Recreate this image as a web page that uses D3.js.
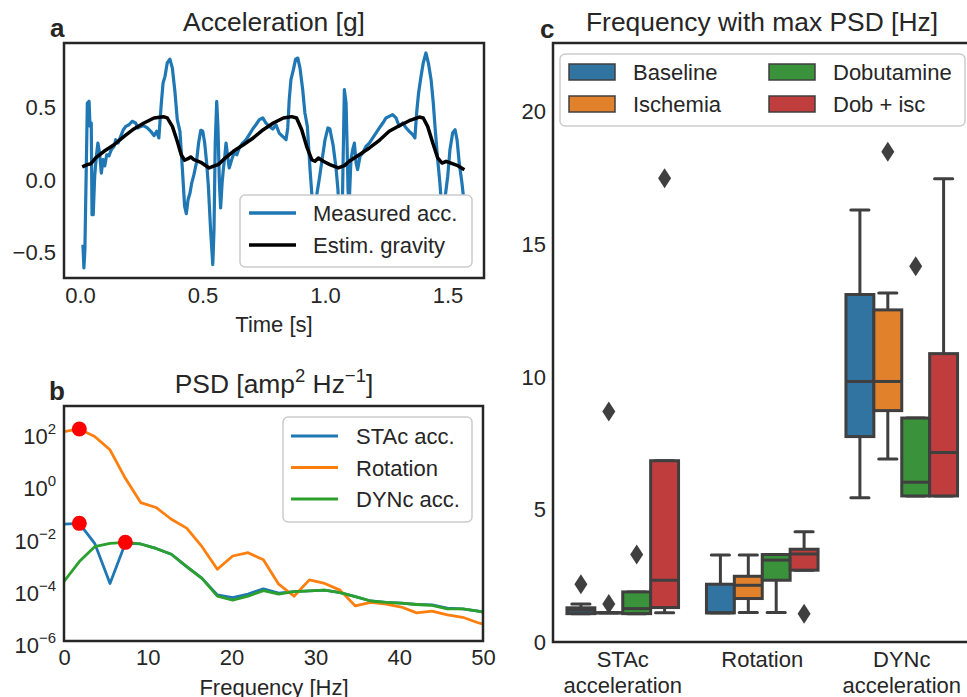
<html>
<head>
<meta charset="UTF-8">
<title>Acceleration, PSD and peak frequency</title>
<script src="https://d3js.org/d3.v7.min.js"></script>
<style>
html,body{margin:0;padding:0;background:#fff;}
svg text{font-family:"Liberation Sans",Arial,sans-serif;fill:#262626;}
</style>
</head>
<body>
<div id="container"></div>
<script>
// ---------- panel a : one recording, [time s, acc g] ----------
const measuredAcc = [[0.012,-0.446],[0.016,-0.607],[0.020,-0.481],[0.030,0.531],[0.037,0.543],[0.041,0.372],[0.046,0.393],[0.049,-0.239],[0.054,-0.239],[0.060,0.028],[0.067,0.166],[0.073,0.255],[0.080,0.186],[0.087,0.048],[0.094,0.140],[0.101,0.097],[0.109,0.174],[0.118,0.166],[0.128,0.209],[0.139,0.232],[0.146,0.278],[0.155,0.255],[0.166,0.301],[0.177,0.347],[0.187,0.370],[0.200,0.381],[0.213,0.405],[0.227,0.393],[0.237,0.359],[0.248,0.370],[0.261,0.374],[0.275,0.359],[0.289,0.336],[0.302,0.306],[0.313,0.336],[0.322,0.290],[0.327,0.416],[0.332,0.531],[0.339,0.669],[0.347,0.715],[0.356,0.807],[0.367,0.834],[0.377,0.772],[0.388,0.600],[0.397,0.416],[0.408,0.336],[0.418,0.071],[0.427,-0.181],[0.434,-0.232],[0.441,-0.136],[0.449,-0.090],[0.456,-0.021],[0.465,0.037],[0.475,0.117],[0.484,0.255],[0.493,0.343],[0.501,0.336],[0.509,0.255],[0.517,0.117],[0.524,-0.043],[0.533,-0.343],[0.542,-0.584],[0.547,-0.343],[0.552,0.255],[0.558,0.543],[0.563,0.370],[0.569,-0.021],[0.574,-0.193],[0.580,-0.021],[0.585,0.071],[0.591,0.163],[0.596,0.255],[0.601,0.186],[0.609,0.083],[0.619,0.140],[0.629,0.186],[0.640,0.174],[0.650,0.221],[0.664,0.255],[0.678,0.278],[0.691,0.313],[0.705,0.352],[0.718,0.381],[0.732,0.416],[0.746,0.428],[0.759,0.393],[0.773,0.370],[0.787,0.352],[0.800,0.381],[0.813,0.324],[0.827,0.301],[0.841,0.278],[0.848,0.359],[0.854,0.554],[0.861,0.692],[0.871,0.761],[0.880,0.834],[0.889,0.841],[0.898,0.772],[0.909,0.623],[0.918,0.462],[0.928,0.370],[0.939,0.071],[0.946,-0.090],[0.955,-0.234],[0.963,-0.138],[0.976,0.000],[0.988,0.138],[1.000,0.276],[1.012,0.359],[1.020,0.352],[1.033,0.241],[1.045,0.083],[1.053,-0.069],[1.064,-0.586],[1.069,-0.345],[1.079,0.623],[1.086,0.531],[1.090,0.255],[1.094,-0.067],[1.098,-0.193],[1.106,0.140],[1.113,0.209],[1.120,0.255],[1.127,0.117],[1.133,0.071],[1.143,0.163],[1.154,0.186],[1.167,0.232],[1.181,0.255],[1.195,0.290],[1.208,0.324],[1.222,0.359],[1.236,0.393],[1.249,0.428],[1.262,0.439],[1.276,0.451],[1.290,0.428],[1.303,0.370],[1.317,0.393],[1.331,0.359],[1.344,0.336],[1.358,0.313],[1.367,0.290],[1.374,0.462],[1.382,0.600],[1.392,0.715],[1.401,0.807],[1.412,0.876],[1.422,0.807],[1.433,0.692],[1.442,0.531],[1.450,0.347],[1.460,0.140],[1.469,-0.021],[1.478,-0.221],[1.486,-0.172],[1.494,-0.069],[1.501,0.026],[1.510,0.209],[1.521,0.324],[1.531,0.347],[1.539,0.278],[1.548,0.117],[1.559,-0.021],[1.571,-0.207]];
const gravityEst = [[0.009,0.090],[0.030,0.106],[0.044,0.112],[0.064,0.152],[0.098,0.198],[0.139,0.243],[0.180,0.301],[0.220,0.352],[0.261,0.393],[0.302,0.428],[0.340,0.437],[0.356,0.428],[0.377,0.370],[0.397,0.267],[0.413,0.174],[0.427,0.136],[0.441,0.147],[0.452,0.159],[0.465,0.140],[0.493,0.122],[0.527,0.083],[0.551,0.099],[0.564,0.106],[0.585,0.140],[0.626,0.198],[0.667,0.243],[0.707,0.290],[0.748,0.347],[0.789,0.393],[0.830,0.428],[0.864,0.437],[0.884,0.428],[0.905,0.347],[0.925,0.232],[0.946,0.140],[0.959,0.129],[0.973,0.152],[0.993,0.129],[1.020,0.106],[1.054,0.083],[1.079,0.099],[1.099,0.129],[1.140,0.174],[1.181,0.221],[1.222,0.274],[1.262,0.336],[1.303,0.374],[1.344,0.409],[1.385,0.434],[1.401,0.428],[1.419,0.370],[1.440,0.255],[1.460,0.152],[1.478,0.117],[1.494,0.129],[1.514,0.117],[1.542,0.099],[1.569,0.071]];
const timeTicks = [0, 0.5, 1.0, 1.5];
const accTicks = [-0.5, 0, 0.5];

// ---------- panel b : power spectral density ----------
const psdFreq = [0,1.83,3.66,5.49,7.32,9.15,10.98,12.81,14.64,16.47,18.30,20.13,21.96,23.79,25.62,27.45,29.28,31.11,32.94,34.77,36.60,38.43,40.26,42.09,43.92,45.75,47.58,49.41,51.24];
const psdSTAc = [3.0e-2,3.2e-2,5.5e-3,1.6e-4,5.5e-3,5.2e-3,3.5e-3,2.1e-3,7.1e-4,2.5e-4,5.8e-5,4.6e-5,6.3e-5,1.0e-4,6.8e-5,7.8e-5,8.3e-5,8.9e-5,7.1e-5,5.0e-5,3.4e-5,3.0e-5,2.8e-5,2.5e-5,2.4e-5,1.8e-5,1.7e-5,1.4e-5,1.1e-5];
const psdRotation = [105,132,68,21,1.7,0.20,0.13,0.046,0.021,4.1e-3,5.6e-4,1.8e-3,2.4e-3,1.3e-3,1.5e-4,5.2e-5,2.2e-4,1.6e-4,8.9e-5,2.2e-5,3.0e-5,2.6e-5,2.0e-5,1.2e-5,1.4e-5,1.0e-5,8.1e-6,5.0e-6,3.5e-6];
const psdDYNc = [1.9e-4,1.1e-3,4.1e-3,5.5e-3,6.0e-3,5.2e-3,3.5e-3,2.1e-3,7.1e-4,2.5e-4,5.2e-5,3.7e-5,5.2e-5,8.5e-5,6.3e-5,7.8e-5,8.3e-5,8.9e-5,7.1e-5,5.0e-5,3.4e-5,3.0e-5,2.8e-5,2.5e-5,2.3e-5,1.7e-5,1.7e-5,1.4e-5,1.1e-5];
const psdNames = ["STAc acc.", "Rotation", "DYNc acc."];
const freqTicks = [0, 10, 20, 30, 40, 50];
const psdTicks = [1e-6, 1e-4, 1e-2, 1, 1e2];

// ---------- panel c : frequency with max PSD ----------
const categories = ["STAc\nacceleration", "Rotation", "DYNc\nacceleration"];
const conditions = ["Baseline", "Ischemia", "Dobutamine", "Dob + isc"];
// per category: [lower whisker, q1, median, q3, upper whisker]
const baselineBox   = [[1.07,1.07,1.20,1.29,1.43], [1.10,1.10,1.10,2.18,3.28], [5.44,7.75,9.83,13.11,16.30]];
const ischemiaBox   = [[1.10,1.10,1.10,1.10,1.10], [1.11,1.64,2.14,2.48,3.28], [6.90,8.73,9.83,12.53,13.17]];
const dobutamineBox = [[1.07,1.07,1.26,1.89,1.89], [1.11,2.33,3.09,3.30,3.30], [5.51,5.51,6.03,8.45,8.45]];
const dobIscBox     = [[1.10,1.30,2.33,6.84,6.84], [2.71,2.71,3.32,3.50,4.16], [5.51,5.51,7.15,10.88,17.48]];
const baselineOut   = [[2.18], [], []];
const ischemiaOut   = [[1.43, 8.7], [], [18.5]];
const dobutamineOut = [[3.30], [], [14.18]];
const dobIscOut     = [[17.5], [1.07], []];
const peakTicks = [0, 5, 10, 15, 20];

const boxColors = ['#3274a1', '#e1812c', '#3a923a', '#c03d3e'];
const psdColors = ['#1f77b4', '#ff7f0e', '#2ca02c'];
const ink = '#262626', boxEdge = '#3f3f3f';

const svg = d3.select('#container').append('svg')
    .attr('width', 967).attr('height', 697)
    .style('background', '#fff');

function styleTicks(g, size) {
    g.select('.domain').remove();
    g.selectAll('text').style('font-size', size + 'px');
}

// ================= panel a =================
const xA = d3.scaleLinear().domain([-0.0653, 1.649]).range([64, 484]);
const yA = d3.scaleLinear().domain([-0.676, 0.945]).range([278, 43]);
const gA = svg.append('g');
gA.append('clipPath').attr('id', 'clipA').append('rect')
    .attr('x', 64).attr('y', 43).attr('width', 420).attr('height', 235);

const lineA = d3.line().x(d => xA(d[0])).y(d => yA(d[1]));
gA.append('path').datum(measuredAcc).attr('d', lineA).attr('clip-path', 'url(#clipA)')
    .attr('fill', 'none').attr('stroke', '#1f77b4').attr('stroke-width', 3.2).attr('stroke-linejoin', 'round');
gA.append('path').datum(gravityEst).attr('d', lineA).attr('clip-path', 'url(#clipA)')
    .attr('fill', 'none').attr('stroke', '#000').attr('stroke-width', 3.5).attr('stroke-linejoin', 'round');

gA.append('g').attr('transform', 'translate(0,278)')
    .call(d3.axisBottom(xA).tickValues(timeTicks).tickFormat(d3.format('.1f')).tickSize(0).tickPadding(9))
    .call(g => styleTicks(g, 22));
gA.append('g').attr('transform', 'translate(64,0)')
    .call(d3.axisLeft(yA).tickValues(accTicks).tickFormat(d3.format('.1f')).tickSize(0).tickPadding(8))
    .call(g => styleTicks(g, 22));
gA.append('rect').attr('x', 64).attr('y', 43).attr('width', 420).attr('height', 235)
    .attr('fill', 'none').attr('stroke', ink).attr('stroke-width', 2.5);

gA.append('text').attr('x', 274).attr('y', 31).attr('text-anchor', 'middle')
    .style('font-size', '26.4px').text('Acceleration [g]');
gA.append('text').attr('x', 274).attr('y', 332).attr('text-anchor', 'middle')
    .style('font-size', '22px').text('Time [s]');
gA.append('text').attr('x', 50).attr('y', 37).style('font-size', '26px').style('font-weight', 'bold').text('a');

// legend a (opaque, the signal is hidden beneath it)
const legA = gA.append('g');
legA.append('rect').attr('x', 240).attr('y', 195).attr('width', 232).attr('height', 72).attr('rx', 5)
    .attr('fill', '#fff').attr('stroke', '#cccccc').attr('stroke-width', 1.5);
[['Measured acc.', '#1f77b4'], ['Estim. gravity', '#000']].forEach((d, i) => {
    const y = 213 + i * 32;
    legA.append('line').attr('x1', 249).attr('x2', 296).attr('y1', y).attr('y2', y)
        .attr('stroke', d[1]).attr('stroke-width', 3.5);
    legA.append('text').attr('x', 313).attr('y', y + 8).style('font-size', '22px').text(d[0]);
});

// ================= panel b =================
const xB = d3.scaleLinear().domain([0, 50]).range([64, 483]);
const yB = d3.scaleLog().domain([1e-6, 1e3]).range([641, 406]);
const gB = svg.append('g');
gB.append('clipPath').attr('id', 'clipB').append('rect')
    .attr('x', 64).attr('y', 406).attr('width', 419).attr('height', 235);

const psdSeries = [psdSTAc, psdRotation, psdDYNc];
const lineB = d3.line().x((d, i) => xB(psdFreq[i])).y(d => yB(d));
psdSeries.forEach((s, k) => {
    gB.append('path').datum(s).attr('d', lineB).attr('clip-path', 'url(#clipB)')
        .attr('fill', 'none').attr('stroke', psdColors[k]).attr('stroke-width', 2.8).attr('stroke-linejoin', 'round');
});
// red dot on each spectrum maximum
psdSeries.forEach(s => {
    const i = d3.maxIndex(s);
    gB.append('circle').attr('cx', xB(psdFreq[i])).attr('cy', yB(s[i])).attr('r', 7.5).attr('fill', '#ff0000');
});

gB.append('g').attr('transform', 'translate(0,641)')
    .call(d3.axisBottom(xB).tickValues(freqTicks).tickFormat(d3.format('d')).tickSize(0).tickPadding(8))
    .call(g => styleTicks(g, 22));
psdTicks.forEach(v => {
    const e = Math.round(Math.log10(v));
    const t = gB.append('text').attr('x', 56).attr('y', yB(v) + 12).attr('text-anchor', 'end').style('font-size', '22px');
    t.append('tspan').text('10');
    t.append('tspan').attr('dy', -10).style('font-size', '15px').text(String(e).replace('-', '\u2212'));
});
gB.append('rect').attr('x', 64).attr('y', 406).attr('width', 419).attr('height', 235)
    .attr('fill', 'none').attr('stroke', ink).attr('stroke-width', 2.5);

const tB = gB.append('text').attr('x', 274).attr('y', 393).attr('text-anchor', 'middle').style('font-size', '26.4px');
tB.append('tspan').text('PSD [amp');
tB.append('tspan').attr('dy', -11).style('font-size', '18.5px').text('2');
tB.append('tspan').attr('dy', 11).text(' Hz');
tB.append('tspan').attr('dy', -11).style('font-size', '18.5px').text('\u22121');
tB.append('tspan').attr('dy', 11).text(']');
gB.append('text').attr('x', 274).attr('y', 695).attr('text-anchor', 'middle')
    .style('font-size', '22px').text('Frequency [Hz]');
gB.append('text').attr('x', 49).attr('y', 400).style('font-size', '26px').style('font-weight', 'bold').text('b');

const legB = gB.append('g');
legB.append('rect').attr('x', 283).attr('y', 417).attr('width', 189).attr('height', 105).attr('rx', 5)
    .attr('fill', '#fff').attr('fill-opacity', 0.8).attr('stroke', '#cccccc').attr('stroke-width', 1.5);
psdNames.forEach((n, i) => {
    const y = 436 + i * 31.5;
    legB.append('line').attr('x1', 291).attr('x2', 338).attr('y1', y).attr('y2', y)
        .attr('stroke', psdColors[i]).attr('stroke-width', 3);
    legB.append('text').attr('x', 356).attr('y', y + 8).style('font-size', '22px').text(n);
});

// ================= panel c =================
const xC = d3.scaleBand().domain(d3.range(categories.length)).range([553, 971.5]);
const hueC = d3.scaleBand().domain(d3.range(conditions.length)).range([0, xC.bandwidth() * 0.8]);
const yC = d3.scaleLinear().domain([0, 22.6]).range([642, 43]);
const gC = svg.append('g');

const boxSets = [baselineBox, ischemiaBox, dobutamineBox, dobIscBox];
const outSets = [baselineOut, ischemiaOut, dobutamineOut, dobIscOut];
const bw = hueC.bandwidth();
const capW = bw * 0.65;
const diamond = 'M0,-10L6.5,0L0,10L-6.5,0Z';

categories.forEach((c, ci) => {
    boxSets.forEach((set, hi) => {
        const [lo, q1, med, q3, up] = set[ci];
        const x0 = xC(ci) + xC.bandwidth() * 0.1 + hueC(hi);
        const cx = x0 + bw / 2;
        const g = gC.append('g');
        // whiskers and caps
        g.append('line').attr('x1', cx).attr('x2', cx).attr('y1', yC(lo)).attr('y2', yC(q1))
            .attr('stroke', boxEdge).attr('stroke-width', 3);
        g.append('line').attr('x1', cx).attr('x2', cx).attr('y1', yC(q3)).attr('y2', yC(up))
            .attr('stroke', boxEdge).attr('stroke-width', 3);
        [lo, up].forEach(v => g.append('line').attr('x1', cx - capW / 2).attr('x2', cx + capW / 2)
            .attr('y1', yC(v)).attr('y2', yC(v)).attr('stroke', boxEdge).attr('stroke-width', 3)
            .attr('stroke-linecap', 'round'));
        // box
        g.append('rect').attr('x', x0).attr('y', yC(q3)).attr('width', bw)
            .attr('height', Math.max(0.01, yC(q1) - yC(q3)))
            .attr('fill', boxColors[hi]).attr('stroke', boxEdge).attr('stroke-width', 3);
        g.append('line').attr('x1', x0).attr('x2', x0 + bw).attr('y1', yC(med)).attr('y2', yC(med))
            .attr('stroke', boxEdge).attr('stroke-width', 3);
        outSets[hi][ci].forEach(v => g.append('path').attr('d', diamond)
            .attr('transform', `translate(${cx},${yC(v)})`).attr('fill', boxEdge));
    });
});

// axes c
gC.append('path').attr('d', 'M971.5,43H553V642H971.5')
    .attr('fill', 'none').attr('stroke', ink).attr('stroke-width', 2.5);
gC.append('g').attr('transform', 'translate(553,0)')
    .call(d3.axisLeft(yC).tickValues(peakTicks).tickFormat(d3.format('d')).tickSize(0).tickPadding(7))
    .call(g => styleTicks(g, 22));
categories.forEach((c, ci) => {
    const t = gC.append('text').attr('x', xC(ci) + xC.bandwidth() / 2).attr('y', 667)
        .attr('text-anchor', 'middle').style('font-size', '22px');
    c.split('\n').forEach((line, li) => {
        t.append('tspan').attr('x', xC(ci) + xC.bandwidth() / 2).attr('dy', li === 0 ? 0 : 26).text(line);
    });
});
gC.append('text').attr('x', 762).attr('y', 31).attr('text-anchor', 'middle')
    .style('font-size', '26.4px').text('Frequency with max PSD [Hz]');
gC.append('text').attr('x', 540).attr('y', 38).style('font-size', '26px').style('font-weight', 'bold').text('c');

const legC = gC.append('g');
legC.append('rect').attr('x', 560).attr('y', 54).attr('width', 405).attr('height', 72).attr('rx', 5)
    .attr('fill', '#fff').attr('fill-opacity', 0.8).attr('stroke', '#cccccc').attr('stroke-width', 1.5);
conditions.forEach((n, i) => {
    const col = Math.floor(i / 2), row = i % 2;
    const x = 569 + col * 200, y = 64 + row * 32;
    legC.append('rect').attr('x', x).attr('y', y).attr('width', 46).attr('height', 16)
        .attr('fill', boxColors[i]).attr('stroke', boxEdge).attr('stroke-width', 1.5);
    legC.append('text').attr('x', x + 64).attr('y', y + 16).style('font-size', '22px').text(n);
});
</script>
</body>
</html>
